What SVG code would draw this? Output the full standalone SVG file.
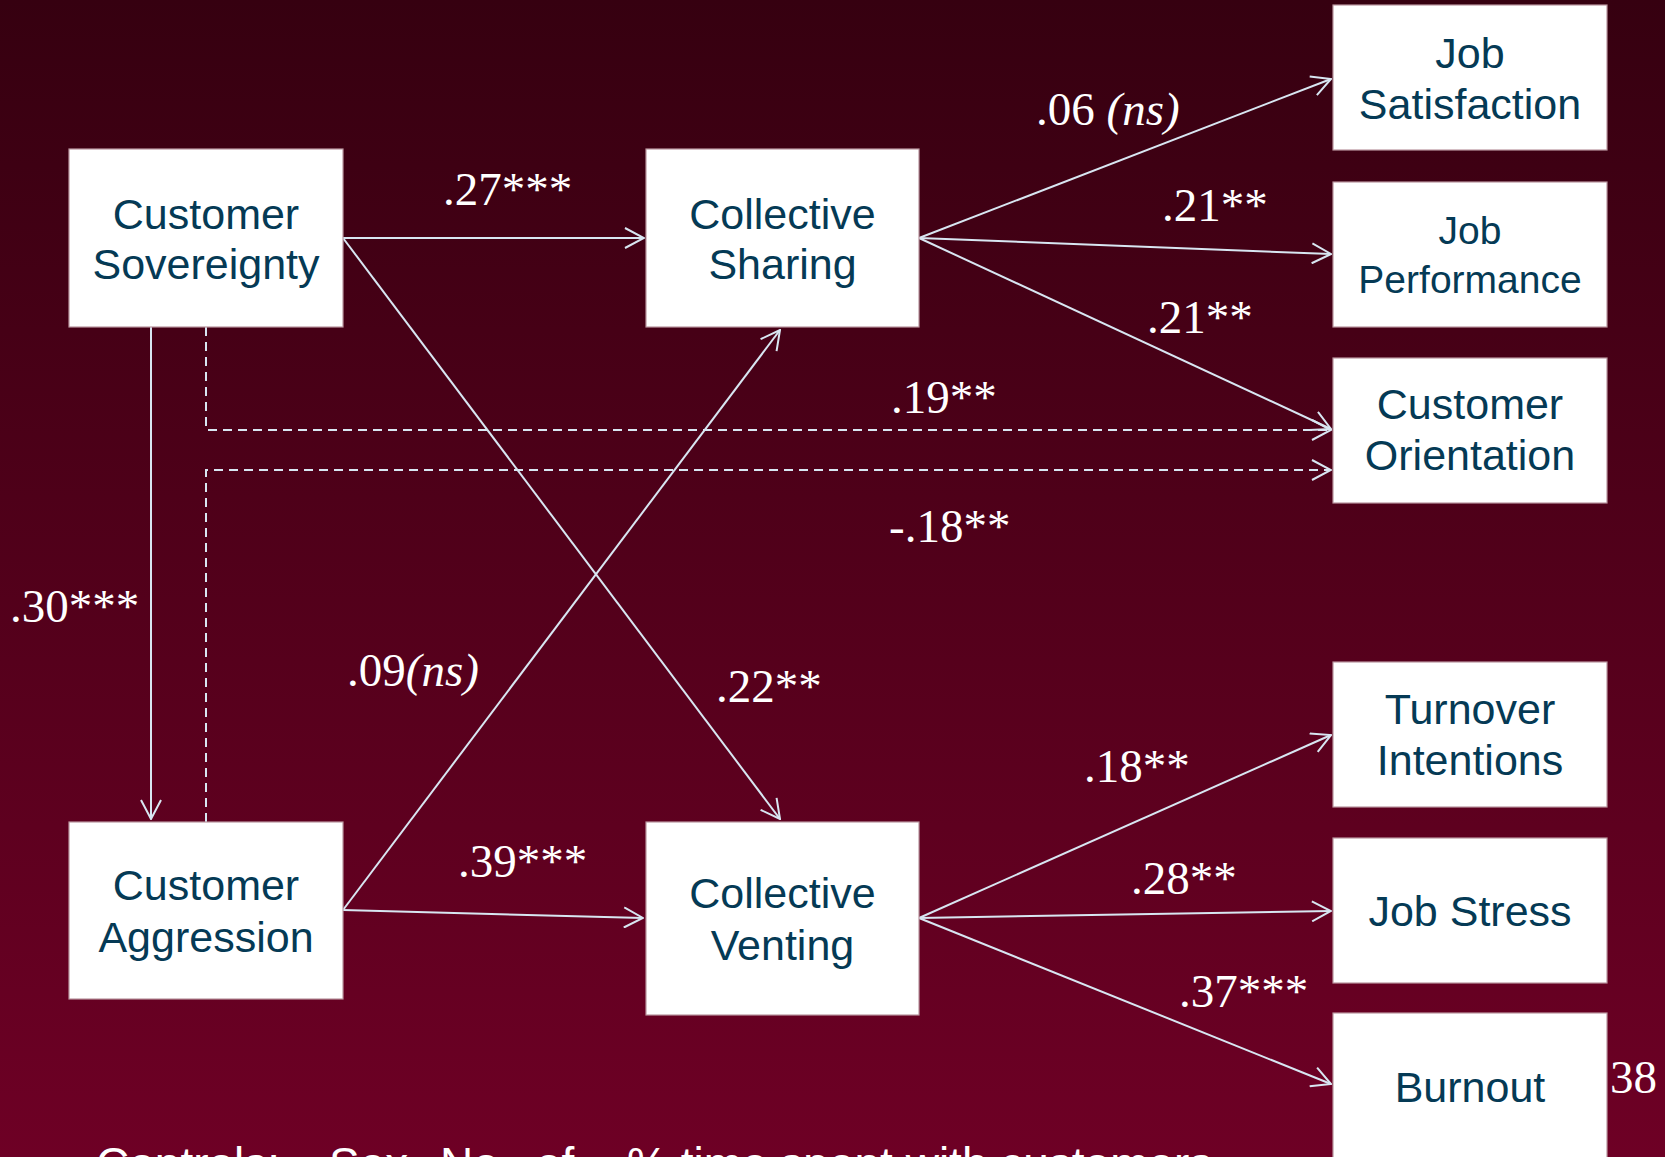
<svg xmlns="http://www.w3.org/2000/svg" width="1665" height="1157" viewBox="0 0 1665 1157">
<defs>
<linearGradient id="bg" x1="0" y1="0" x2="0" y2="1">
<stop offset="0" stop-color="#360010"/>
<stop offset="1" stop-color="#6e0025"/>
</linearGradient>
<marker id="arr" viewBox="0 0 22 22" refX="21" refY="11" markerWidth="22" markerHeight="22" markerUnits="userSpaceOnUse" orient="auto">
<path d="M2,1 L21,11 L2,21" fill="none" stroke="#d8e6f2" stroke-width="2"/>
</marker>
<style>
.box{fill:#ffffff;stroke:#b9959f;stroke-width:1.2}
.nt{font-family:"Liberation Sans",Arial,sans-serif;font-size:43px;fill:#053a55;text-anchor:middle}
.nt2{font-family:"Liberation Sans",Arial,sans-serif;font-size:39px;fill:#053a55;text-anchor:middle}
.lab{font-family:"Liberation Serif","Times New Roman",serif;font-size:47px;fill:#ffffff}
.ln{fill:none;stroke:#d8e6f2;stroke-width:2;marker-end:url(#arr)}
.dl{fill:none;stroke:#d8e6f2;stroke-width:2;stroke-dasharray:9,6}
.ft{font-family:"Liberation Sans",Arial,sans-serif;font-size:46px;fill:#ffffff}
</style>
</defs>
<rect x="0" y="0" width="1665" height="1157" fill="url(#bg)"/>

<g id="connectors">
<line class="ln" x1="343" y1="238" x2="644" y2="238"/>
<line class="ln" x1="343" y1="238" x2="780" y2="819"/>
<line class="ln" x1="151" y1="327" x2="151" y2="819"/>
<line class="ln" x1="343" y1="910" x2="780" y2="330"/>
<line class="ln" x1="343" y1="910" x2="643" y2="918"/>
<path class="dl" d="M206,327 V430 H1331" marker-end="url(#arr)"/>
<path class="dl" d="M206,822 V470 H1331" marker-end="url(#arr)"/>
<line class="ln" x1="919" y1="238" x2="1331" y2="79"/>
<line class="ln" x1="919" y1="238" x2="1331" y2="254"/>
<line class="ln" x1="919" y1="238" x2="1331" y2="429"/>
<line class="ln" x1="919" y1="918" x2="1331" y2="735"/>
<line class="ln" x1="919" y1="918" x2="1331" y2="911"/>
<line class="ln" x1="919" y1="918" x2="1331" y2="1084"/>
</g>

<g id="labels">
<text class="lab" x="443" y="205">.27***</text>
<text class="lab" x="1036" y="125">.06 <tspan font-style="italic">(ns)</tspan></text>
<text class="lab" x="1162" y="221">.21**</text>
<text class="lab" x="1147" y="333">.21**</text>
<text class="lab" x="891" y="413">.19**</text>
<text class="lab" x="889" y="542">-.18**</text>
<text class="lab" x="10" y="622">.30***</text>
<text class="lab" x="347" y="686">.09<tspan font-style="italic">(ns)</tspan></text>
<text class="lab" x="716" y="702">.22**</text>
<text class="lab" x="458" y="877">.39***</text>
<text class="lab" x="1084" y="782">.18**</text>
<text class="lab" x="1131" y="894">.28**</text>
<text class="lab" x="1179" y="1007">.37***</text>
<text class="lab" x="1610" y="1093" font-size="42">38</text>
</g>

<g id="customer-sovereignty">
<rect class="box" x="69" y="149" width="274" height="178"/>
<text class="nt" x="206" y="229">Customer</text>
<text class="nt" x="206" y="279">Sovereignty</text>
</g>
<g id="collective-sharing">
<rect class="box" x="646" y="149" width="273" height="178"/>
<text class="nt" x="782.5" y="229">Collective</text>
<text class="nt" x="782.5" y="279">Sharing</text>
</g>
<g id="customer-aggression">
<rect class="box" x="69" y="822" width="274" height="177"/>
<text class="nt" x="206" y="900">Customer</text>
<text class="nt" x="206" y="952">Aggression</text>
</g>
<g id="collective-venting">
<rect class="box" x="646" y="822" width="273" height="193"/>
<text class="nt" x="782.5" y="908">Collective</text>
<text class="nt" x="782.5" y="960">Venting</text>
</g>
<g id="job-satisfaction">
<rect class="box" x="1333" y="5" width="274" height="145"/>
<text class="nt" x="1470" y="68">Job</text>
<text class="nt" x="1470" y="119">Satisfaction</text>
</g>
<g id="job-performance">
<rect class="box" x="1333" y="182" width="274" height="145"/>
<text class="nt2" x="1470" y="244">Job</text>
<text class="nt2" x="1470" y="293">Performance</text>
</g>
<g id="customer-orientation">
<rect class="box" x="1333" y="358" width="274" height="145"/>
<text class="nt" x="1470" y="419">Customer</text>
<text class="nt" x="1470" y="470">Orientation</text>
</g>
<g id="turnover-intentions">
<rect class="box" x="1333" y="662" width="274" height="145"/>
<text class="nt" x="1470" y="724">Turnover</text>
<text class="nt" x="1470" y="775">Intentions</text>
</g>
<g id="job-stress">
<rect class="box" x="1333" y="838" width="274" height="145"/>
<text class="nt" x="1470" y="926">Job Stress</text>
</g>
<g id="burnout">
<rect class="box" x="1333" y="1013" width="274" height="160"/>
<text class="nt" x="1470" y="1102">Burnout</text>
</g>

<text class="ft" y="1180"><tspan x="96">Controls:</tspan><tspan x="329">Sex,</tspan><tspan x="440">No.</tspan><tspan x="536">of</tspan><tspan x="627">% time spent with customers</tspan></text>
</svg>
